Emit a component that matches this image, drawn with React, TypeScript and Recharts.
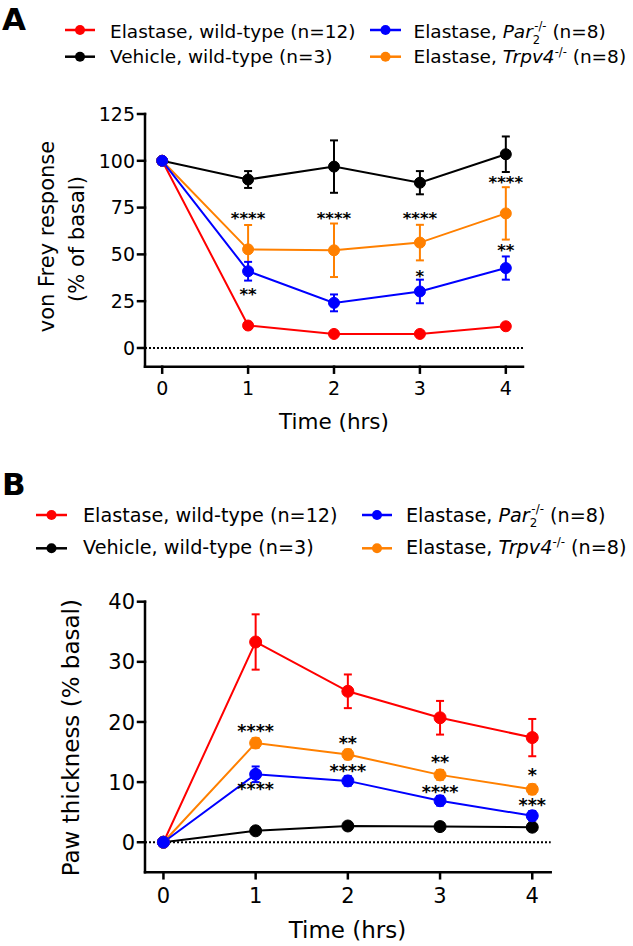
import React from 'react';
import { ComposedChart, Line, XAxis, YAxis, ErrorBar, ReferenceLine, Scatter } from 'recharts';

const FONT = '"DejaVu Sans", sans-serif';
const RED = '#ff0000';
const BLACK = '#000000';
const BLUE = '#0000ff';
const ORANGE = '#ff8000';

// ---------- shared ----------
const times = [0, 1, 2, 3, 4];
const timeTicks = [0, 1, 2, 3, 4];

// ---------- panel A: von Frey response (% of basal) ----------
const vfTicks = [0, 25, 50, 75, 100, 125];
const vfRed = [100, 12, 7.5, 7.5, 11.6];
const vfRedErr = [0, 1.5, 1, 1, 1.5];
const vfBlack = [100, 90, 96.9, 88.3, 103.5];
const vfBlackErr = [0, 4.5, 14, 6.2, 9.5];
const vfPar = [100, 41, 24.1, 30.2, 42.7];
const vfParErr = [0, 5, 4.5, 6.3, 6.2];
const vfTrp = [100, 52.7, 52.2, 56.3, 71.9];
const vfTrpErr = [0, 13, 14.3, 9.5, 14];
const vfStars = [
  { t: 1, y: 71.4, s: '****' },
  { t: 1, y: 30.7, s: '**' },
  { t: 2, y: 71.5, s: '****' },
  { t: 3, y: 71.4, s: '****' },
  { t: 3, y: 40.5, s: '*' },
  { t: 4, y: 90.7, s: '****' },
  { t: 4, y: 54, s: '**' },
];

// ---------- panel B: paw thickness (% basal) ----------
const pawTicks = [0, 10, 20, 30, 40];
const pawRed = [0, 33.3, 25.1, 20.7, 17.4];
const pawRedErr = [0, 4.6, 2.8, 2.8, 3.1];
const pawBlack = [0, 1.9, 2.7, 2.6, 2.5];
const pawBlackErr = [0, 0.5, 0.5, 0.5, 0.5];
const pawPar = [0, 11.3, 10.2, 6.9, 4.4];
const pawParErr = [0, 1.3, 0.8, 0.8, 0.8];
const pawTrp = [0, 16.5, 14.6, 11.2, 8.8];
const pawTrpErr = [0, 0.8, 0.8, 0.8, 0.8];
const pawStars = [
  { t: 1, y: 19.2, s: '****' },
  { t: 1, y: 9.5, s: '****' },
  { t: 2, y: 17.2, s: '**' },
  { t: 2, y: 12.5, s: '****' },
  { t: 3, y: 14.1, s: '**' },
  { t: 3, y: 9.1, s: '****' },
  { t: 4, y: 11.8, s: '*' },
  { t: 4, y: 6.9, s: '***' },
];

function buildRows(series: Record<string, number[]>) {
  return times.map((t, i) => {
    const r: any = { t };
    Object.keys(series).forEach((k) => {
      r[k] = series[k][i];
    });
    return r;
  });
}

const rowsA = buildRows({
  red: vfRed, redErr: vfRedErr, black: vfBlack, blackErr: vfBlackErr,
  par: vfPar, parErr: vfParErr, trp: vfTrp, trpErr: vfTrpErr,
});
const rowsB = buildRows({
  red: pawRed, redErr: pawRedErr, black: pawBlack, blackErr: pawBlackErr,
  par: pawPar, parErr: pawParErr, trp: pawTrp, trpErr: pawTrpErr,
});

const makeYTick = (fs: number) => (props: any) => {
  const { x, y, payload } = props;
  return (
    <text x={x} y={y} dy={fs * 0.36} textAnchor="end" fontSize={fs} fontFamily={FONT} fill="#000">
      {payload.value}
    </text>
  );
};
const makeXTick = (fs: number, dy: number) => (props: any) => {
  const { x, y, payload } = props;
  return (
    <text x={x} y={y} dy={dy} textAnchor="middle" fontSize={fs} fontFamily={FONT} fill="#000">
      {payload.value}
    </text>
  );
};
const makeStar = (fs: number) => (props: any) => {
  const { cx, cy, payload } = props;
  return (
    <text x={cx} y={cy} dy={fs * 0.58} textAnchor="middle" fontSize={fs} fontWeight="bold" fontFamily={FONT} fill="#000">
      {payload.s}
    </text>
  );
};

const axisStyle = { stroke: '#000', strokeWidth: 2.5, strokeLinecap: 'square' as const };

type SeriesDef = { key: string; color: string };
const seriesOrder: SeriesDef[] = [
  { key: 'red', color: RED },
  { key: 'black', color: BLACK },
  { key: 'trp', color: ORANGE },
  { key: 'par', color: BLUE },
];

function renderLines(r: number) {
  return seriesOrder.map((s) => (
    <Line
      key={s.key}
      type="linear"
      dataKey={s.key}
      stroke={s.color}
      strokeWidth={2}
      dot={{ r, fill: s.color, stroke: s.color, strokeWidth: 1 }}
      activeDot={false}
      isAnimationActive={false}
    >
      <ErrorBar dataKey={s.key + 'Err'} direction="y" width={4} strokeWidth={2} stroke={s.color} />
    </Line>
  ));
}

function ChartA() {
  return (
    <ComposedChart
      width={633}
      height={450}
      data={rowsA}
      margin={{ top: 114, right: 110, bottom: 43.3, left: 85 }}
    >
      <XAxis
        dataKey="t"
        type="number"
        domain={[-0.2, 4.2]}
        ticks={timeTicks}
        allowDataOverflow
        height={40}
        axisLine={axisStyle}
        tickLine={axisStyle}
        tickSize={6}
        tickMargin={0}
        tick={makeXTick(19, 22.3)}
        label={{
          content: () => (
            <text x={334} y={428.6} textAnchor="middle" fontSize={21.5} fontFamily={FONT} fill="#000">
              Time (hrs)
            </text>
          ),
        }}
      />
      <YAxis
        type="number"
        domain={[-10, 125]}
        ticks={vfTicks}
        allowDataOverflow
        width={60}
        axisLine={axisStyle}
        tickLine={axisStyle}
        tickSize={7}
        tickMargin={3}
        tick={makeYTick(19)}
        label={{
          content: () => (
            <g>
              <text transform="translate(53.5,236.5) rotate(-90)" textAnchor="middle" fontSize={21} fontFamily={FONT} fill="#000">
                von Frey response
              </text>
              <text transform="translate(83.5,239) rotate(-90)" textAnchor="middle" fontSize={21} fontFamily={FONT} fill="#000">
                (% of basal)
              </text>
            </g>
          ),
        }}
      />
      <ReferenceLine y={0} stroke="#000" strokeWidth={2} strokeDasharray="2 2" />
      {renderLines(5.5)}
      <Scatter data={vfStars} dataKey="y" shape={makeStar(16.5)} isAnimationActive={false} legendType="none" />
    </ComposedChart>
  );
}

function ChartB() {
  return (
    <ComposedChart
      width={633}
      height={496}
      data={rowsB}
      margin={{ top: 151.7, right: 82.3, bottom: 33.7, left: 85 }}
    >
      <XAxis
        dataKey="t"
        type="number"
        domain={[-0.2, 4.2]}
        ticks={timeTicks}
        allowDataOverflow
        height={40}
        axisLine={axisStyle}
        tickLine={axisStyle}
        tickSize={6}
        tickMargin={0}
        tick={makeXTick(21, 25)}
        label={{
          content: () => (
            <text x={347.5} y={487.5} textAnchor="middle" fontSize={23} fontFamily={FONT} fill="#000">
              Time (hrs)
            </text>
          ),
        }}
      />
      <YAxis
        type="number"
        domain={[-5, 40]}
        ticks={pawTicks}
        allowDataOverflow
        width={60}
        axisLine={axisStyle}
        tickLine={axisStyle}
        tickSize={7}
        tickMargin={3}
        tick={makeYTick(21)}
        label={{
          content: () => (
            <text transform="translate(79,287.7) rotate(-90)" textAnchor="middle" fontSize={23} fontFamily={FONT} fill="#000">
              Paw thickness (% basal)
            </text>
          ),
        }}
      />
      <ReferenceLine y={0} stroke="#000" strokeWidth={2} strokeDasharray="2 2" />
      {renderLines(6)}
      <Scatter data={pawStars} dataKey="y" shape={makeStar(17.5)} isAnimationActive={false} legendType="none" />
    </ComposedChart>
  );
}

function Marker({ x1, x2, y, color }: { x1: number; x2: number; y: number; color: string }) {
  return (
    <g>
      <line x1={x1} y1={y} x2={x2} y2={y} stroke={color} strokeWidth={2.5} />
      <circle cx={(x1 + x2) / 2} cy={y} r={5} fill={color} />
    </g>
  );
}

function LegendBlock(p: {
  fs: number;
  c1: [number, number, number];
  c2: [number, number, number];
  rows: [number, number];
  marks: [number, number];
}) {
  const { fs, c1, c2, rows, marks } = p;
  const sub = fs * 0.62;
  return (
    <g fontFamily={FONT} fontSize={fs} fill="#000">
      <Marker x1={c1[0]} x2={c1[1]} y={marks[0]} color={RED} />
      <text x={c1[2]} y={rows[0]}>Elastase, wild-type (n=12)</text>
      <Marker x1={c1[0]} x2={c1[1]} y={marks[1]} color={BLACK} />
      <text x={c1[2]} y={rows[1]}>Vehicle, wild-type (n=3)</text>
      <Marker x1={c2[0]} x2={c2[1]} y={marks[0]} color={BLUE} />
      <text x={c2[2]} y={rows[0]}>
        Elastase, <tspan fontStyle="italic">Par</tspan>
        <tspan fontSize={sub} dy={fs * 0.3}>2</tspan>
        <tspan fontSize={sub} dx={-sub * 0.5} dy={-fs * 0.75}>-/-</tspan>
        <tspan dy={fs * 0.45}> (n=8)</tspan>
      </text>
      <Marker x1={c2[0]} x2={c2[1]} y={marks[1]} color={ORANGE} />
      <text x={c2[2]} y={rows[1]}>
        Elastase, <tspan fontStyle="italic">Trpv4</tspan>
        <tspan fontSize={sub} dy={-fs * 0.42}>-/-</tspan>
        <tspan dy={fs * 0.42}> (n=8)</tspan>
      </text>
    </g>
  );
}

export default function App() {
  return (
    <div style={{ position: 'absolute', left: 0, top: 0, width: 633, height: 946, background: '#fff', overflow: 'hidden' }}>
      <div style={{ position: 'absolute', left: 0, top: 0 }}>
        <ChartA />
      </div>
      <div style={{ position: 'absolute', left: 0, top: 450 }}>
        <ChartB />
      </div>
      <svg width={633} height={946} style={{ position: 'absolute', left: 0, top: 0, pointerEvents: 'none' }}>
        <text x={2} y={30} fontFamily={FONT} fontWeight="bold" fontSize={31} fill="#000">A</text>
        <text x={2} y={495} fontFamily={FONT} fontWeight="bold" fontSize={31} fill="#000">B</text>
        <LegendBlock fs={18.5} c1={[65, 95, 110]} c2={[370, 401, 413.5]} rows={[38.3, 63.3]} marks={[30, 56.7]} />
        <LegendBlock fs={19.2} c1={[36, 67, 83]} c2={[362, 392, 406]} rows={[521.5, 554]} marks={[515, 548.3]} />
      </svg>
    </div>
  );
}
